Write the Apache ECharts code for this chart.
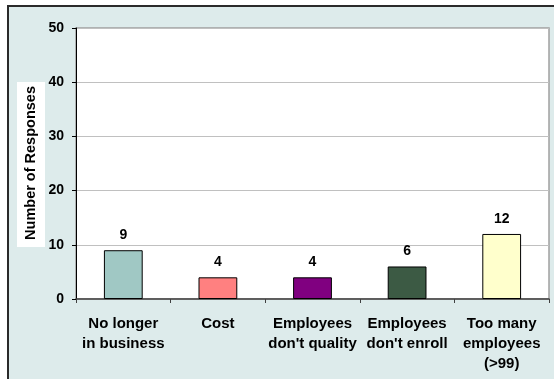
<!DOCTYPE html>
<html>
<head>
<meta charset="utf-8">
<script src="https://cdn.jsdelivr.net/npm/echarts@6/dist/echarts.min.js"></script>
<style>
  html, body { margin: 0; padding: 0; background: #fff; }
  #chart { width: 554px; height: 379px; }
</style>
</head>
<body>
<div id="chart"></div>
<script>
var categories = [
  'No longer\nin business',
  'Cost',
  'Employees\ndon\'t quality',
  'Employees\ndon\'t enroll',
  'Too many\nemployees\n(>99)',
]
var values = [9, 4, 4, 6, 12]
var barColors = ['#A0C8C4', '#FF8080', '#800080', '#3C5A44', '#FFFFCC']
var yTicks = [0, 10, 20, 30, 40, 50]

var font = '"Liberation Sans", Arial, sans-serif'

var chart = echarts.init(document.getElementById('chart'))
chart.setOption({
  animation: false,
  graphic: [
    {
      type: 'rect',
      z: -10,
      shape: { x: 8, y: 6, width: 600, height: 420 },
      style: { fill: '#DDEBEB', stroke: '#2a2a2a', lineWidth: 2 },
    },
    {
      type: 'rect',
      z: -5,
      shape: { x: 17, y: 82, width: 28, height: 165 },
      style: { fill: '#fff' },
    },
    {
      type: 'text',
      x: 31,
      y: 163,
      rotation: Math.PI / 2,
      style: {
        text: 'Number of Responses',
        font: 'bold 14.5px ' + font,
        fill: '#000',
        align: 'center',
        verticalAlign: 'middle',
      },
    },
  ],
  grid: {
    left: 76,
    right: 5,
    top: 28,
    bottom: 80,
    show: true,
    backgroundColor: '#fff',
    borderColor: '#a0a0a0',
    borderWidth: 1.5,
  },
  xAxis: {
    type: 'category',
    data: categories,
    axisLine: { lineStyle: { color: '#404040', width: 1.5 } },
    axisTick: { show: true, length: 4, lineStyle: { color: '#404040' } },
    axisLabel: {
      interval: 0,
      margin: 15,
      lineHeight: 20,
      fontFamily: font,
      fontWeight: 'bold',
      fontSize: 15,
      color: '#000',
    },
  },
  yAxis: {
    type: 'value',
    min: 0,
    max: 50,
    interval: 10,
    axisLine: { show: true, lineStyle: { color: '#000', width: 1 } },
    axisTick: { show: true, length: 4, lineStyle: { color: '#000' } },
    axisLabel: {
      margin: 12,
      fontFamily: font,
      fontWeight: 'bold',
      fontSize: 14,
      color: '#000',
      formatter: function (v) {
        return yTicks.indexOf(v) >= 0 ? String(v) : ''
      },
    },
    splitLine: { lineStyle: { color: '#c0c0c0', width: 1 } },
  },
  series: [
    {
      type: 'bar',
      barWidth: '41%',
      data: values.map(function (v, i) {
        return { value: v, itemStyle: { color: barColors[i] } }
      }),
      itemStyle: { borderColor: '#000', borderWidth: 1 },
      label: {
        show: true,
        position: 'top',
        distance: 8,
        fontFamily: font,
        fontWeight: 'bold',
        fontSize: 14,
        color: '#000',
      },
    },
  ],
})
</script>
</body>
</html>
